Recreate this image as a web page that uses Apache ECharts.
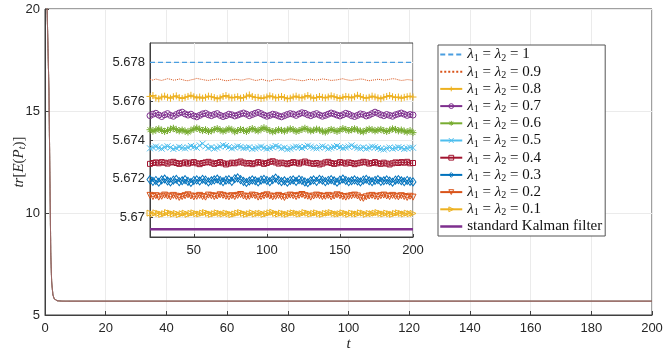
<!DOCTYPE html>
<html><head><meta charset="utf-8">
<script src="https://cdn.jsdelivr.net/npm/echarts@6/dist/echarts.min.js"></script>
<style>html,body{margin:0;padding:0;background:#fff}#c{width:664px;height:355px}</style>
</head><body><div id="c"></div>
<script>
// ---------- data ----------
const lambdaLabels = ['1','0.9','0.8','0.7','0.6','0.5','0.4','0.3','0.2','0.1'];
const kalmanName = 'standard Kalman filter';
// steady-state level of each curve in the inset (t = 20..200)
const insetLevels = [5.6780, 5.6771, 5.6762, 5.6753, 5.6745, 5.6736, 5.6728, 5.6719, 5.6711, 5.6702];
const kalmanLevel = 5.6694;
const insetStart = 20, insetEnd = 200, insetStep = 2;
// fluctuations around the level, in units of devUnit (one value per t = 20,22,...,200)
const devUnit = 1.5e-5;
const dev09 = [2,-1,3,0,-2,1,4,2,-1,0, 3,1,-2,-3,0,2,5,3,1,-1, -2,0,1,3,2,-1,-3,-2,0,2, 1,-1,0,3,4,1,-2,-1,2,0, -3,-4,-1,1,2,0,-2,1,3,2, 0,-1,-3,-2,1,2,0,-1,1,3, 2,0,-2,-1,0,2,4,1,-1,-2, 0,1,3,2,-1,-3,-1,0,2,1, -1,0,2,4,3,0,-2,-1,1,0, -2];
const dev08 = [3,6,-2,-5,1,4,0,-3,2,5, -1,-4,0,3,7,2,-2,1,-3,0, 4,2,-1,-5,-2,3,6,1,-2,0, 2,-3,-1,4,8,3,-1,0,-4,-2, 1,5,2,-2,0,3,-1,-5,-3,1, 4,0,-2,2,6,1,-3,-1,3,0, -2,1,5,2,-1,-4,0,3,1,-2, 2,7,3,-1,-3,0,4,1,-2,-5, 0,3,6,2,-1,1,-3,0,2,4, 1];
const dev07 = [-3,2,5,-1,-6,0,4,-2,-5,1, 6,9,3,-1,2,-4,-7,-2,3,5, 0,-3,1,4,-2,-6,-3,2,0,-4, -1,3,6,2,-3,1,5,8,4,-1, -5,-2,2,0,-4,-7,-3,1,4,2, -2,3,7,5,0,-3,1,4,-1,-5, -2,2,6,3,-1,-4,0,5,2,-3, -6,-2,3,1,-4,-1,4,9,5,0, -3,1,-2,-5,0,3,6,2,-2,1, -1];
const dev06 = [2,-3,1,5,0,-4,-1,4,7,2, -2,1,-3,-6,0,4,8,3,-1,2, -4,-2,3,6,1,-3,0,5,2,-5, -1,3,0,-4,2,6,1,-2,4,9, 3,-1,-5,-2,2,0,-3,1,5,2, -4,-1,3,7,2,-2,0,4,1,-3, -6,-1,3,0,-4,1,6,3,-1,2, 5,1,-3,-5,0,4,2,-2,1,3, -1,-4,0,5,3,-2,1,-3,-6,-1, -8];
const dev05 = [-2,1,4,0,-3,2,5,1,-4,-1, 3,0,-2,1,6,3,0,8,14,5, -1,2,-3,0,4,9,6,2,-2,1, 5,3,-1,0,2,-4,-2,1,4,0, -3,-1,2,6,3,-2,0,-5,-3,1, 4,2,-1,3,7,4,0,-2,1,5, 2,-3,0,3,6,2,-1,1,4,8, 3,0,-2,1,-3,0,4,2,-1,-4, -6,-2,1,-3,-1,2,0,-4,-2,1, 0];
const dev04 = [-2,1,3,0,4,2,-1,3,5,1, -2,0,3,-1,2,4,0,-3,1,3, 5,2,-2,1,4,0,-4,-1,2,0, 3,6,2,-1,1,-3,0,4,2,-2, 1,5,7,3,-1,2,0,-3,1,4, 2,-1,3,6,2,0,-2,1,-4,-1, 3,5,1,-2,0,4,2,-1,3,1, -3,0,2,5,3,-1,1,4,0,-2, 2,-1,-4,0,3,1,4,2,5,0, 1];
const dev03 = [4,-2,1,-5,3,6,-1,-4,2,5, -3,0,4,-2,-6,1,3,-1,5,2, -4,0,3,6,1,-3,2,4,-2,7, 10,4,-2,-6,-1,3,0,-4,2,5, 1,-3,4,9,2,-3,0,-5,1,3, -2,4,1,-4,-7,0,3,-2,5,2, -3,1,4,0,-5,2,6,1,-3,0, 3,-1,-4,2,5,0,-3,1,4,-2, 0,3,-1,-5,2,4,0,-3,1,-2, -4];
const dev02 = [3,-1,2,-3,0,4,1,-2,3,0, -4,-1,2,5,1,-2,0,3,-1,-3, 4,2,-1,1,5,3,0,-2,2,-1, 3,6,1,-2,0,4,2,-3,-1,2, 5,1,-2,0,3,-1,-4,1,4,2, -1,3,6,2,0,-3,1,4,2,-1, 0,3,-2,1,5,2,-1,-3,0,2, 4,1,-5,-7,-2,1,3,0,-2,2, 4,1,-1,3,0,-2,2,-1,-4,0, -3];
const dev01 = [2,-1,3,1,-2,0,4,2,-1,1, -3,0,2,-2,1,3,0,-1,2,4, 1,-2,0,3,1,-1,2,0,-3,-1, 2,4,1,-2,0,3,-1,1,2,-2, 0,3,5,1,-1,2,0,-2,1,3, 2,-1,0,4,2,-1,1,3,0,-2, 1,2,4,1,-1,0,3,1,-2,2, 0,-1,3,2,-2,1,0,2,4,1, -1,2,0,-2,1,3,1,-1,2,0, 1];
// transient shown in the main axes (all curves coincide at this scale)
const mainT = [0, 0.4, 0.7, 1.0, 1.3, 1.6, 1.9, 2.2, 2.6, 3.0, 3.5, 4, 5, 6, 8, 200];
const mainV = [40, 26, 20, 18, 16, 12, 8, 6.6, 6.0, 5.8, 5.73, 5.70, 5.685, 5.68, 5.678, 5.678];
const insetXTicks = [50, 100, 150, 200];
const insetYTicks = [5.670, 5.672, 5.674, 5.676, 5.678];

// ---------- styles ----------
const colors = ['#4a9ee0','#D95319','#EDB120','#7E2F8E','#77AC30','#4DBEEE','#A2142F','#0072BD','#D95319','#EDB120'];
const kalmanColor = '#7E2F8E';
const devs = [null, dev09, dev08, dev07, dev06, dev05, dev04, dev03, dev02, dev01];
const symbols = ['none','none',
  'path://M5,0L5,10M0,5L10,5',
  'circle',
  'path://M5,0L5,10M0,5L10,5M1.5,1.5L8.5,8.5M8.5,1.5L1.5,8.5',
  'path://M0,0L10,10M10,0L0,10',
  'rect',
  'diamond',
  'path://M0,0L10,0L5,8.66Z',
  'path://M0,0L8.66,5L0,10Z'];
const symbolSizes = [0,0,7,6,7,6,5,[6,8],6,6];
const names = lambdaLabels.map(v => 'λ1 = λ2 = ' + v);
const hollow = c => ({ color: 'rgba(255,255,255,0)', borderColor: c, borderWidth: 1 });

const series = [];
names.forEach((nm, k) => {
  let data;
  if (devs[k]) {
    data = devs[k].map((d, i) => [insetStart + i * insetStep, insetLevels[k] + d * devUnit]);
  } else {
    data = [[insetStart, insetLevels[k]], [insetEnd, insetLevels[k]]];
  }
  series.push({
    name: nm, type: 'line', xAxisIndex: 1, yAxisIndex: 1, data,
    symbol: symbols[k] === 'none' ? 'circle' : symbols[k], symbolSize: symbolSizes[k] || 1,
    showSymbol: symbols[k] !== 'none',
    lineStyle: { color: colors[k], width: k === 0 ? 1.2 : 1, type: k === 0 ? [5, 3] : (k === 1 ? 'dotted' : 'solid') },
    itemStyle: symbols[k] === 'none' ? { color: 'rgba(0,0,0,0)', opacity: 0 } : hollow(colors[k]),
    emphasis: { disabled: true }, z: 3
  });
});
series.push({
  name: kalmanName, type: 'line', xAxisIndex: 1, yAxisIndex: 1,
  data: [[insetStart, kalmanLevel], [insetEnd, kalmanLevel]],
  symbol: 'circle', symbolSize: 1, showSymbol: false,
  lineStyle: { color: kalmanColor, width: 2.5 }, itemStyle: { color: 'rgba(0,0,0,0)', opacity: 0 },
  emphasis: { disabled: true }, z: 3
});
// main axes curves
names.concat([kalmanName]).forEach((nm, k) => {
  series.push({
    name: nm, type: 'line', xAxisIndex: 0, yAxisIndex: 0,
    data: mainT.map((t, i) => [t, mainV[i]]),
    symbol: 'none', emphasis: { disabled: true },
    lineStyle: { color: k < 10 ? colors[k] : kalmanColor, width: 1, opacity: 0.3 }
  });
});

// legend entries with per-item marker styles
const legendData = names.map((nm, k) => ({
  name: nm,
  itemStyle: symbols[k] === 'none' ? { color: 'rgba(0,0,0,0)', borderWidth: 0, opacity: 0 } : hollow(colors[k])
})).concat([{ name: kalmanName, itemStyle: { color: 'rgba(0,0,0,0)', borderWidth: 0, opacity: 0 }, lineStyle: { width: 2.5 } }]);

const axisColor = '#404040';
const txt = '#262626';
const serif = 'Liberation Serif';
const rich = {
  i: { fontFamily: serif, fontStyle: 'italic', fontSize: 15, color: '#111', lineHeight: 17 },
  s: { fontFamily: serif, fontSize: 10, color: '#111', lineHeight: 17, padding: [7, 0, 0, 0] },
  t: { fontFamily: serif, fontSize: 15, color: '#111', lineHeight: 17 },
  k: { fontFamily: serif, fontSize: 15, color: '#111', lineHeight: 17 }
};

const chart = echarts.init(document.getElementById('c'), null, { renderer: 'canvas' });
chart.setOption({
  animation: false,
  backgroundColor: '#fff',
  grid: [
    { left: 45, right: 12, top: 9, bottom: 40, outerBoundsMode: 'none', containLabel: false,
      show: true, borderColor: axisColor, borderWidth: 1, backgroundColor: 'rgba(0,0,0,0)' },
    { left: 150, top: 43, width: 263, height: 194, outerBoundsMode: 'none', containLabel: false,
      show: true, borderColor: axisColor, borderWidth: 1, backgroundColor: '#fff', z: 1 }
  ],
  xAxis: [
    { type: 'value', gridIndex: 0, min: 0, max: 200, interval: 20,
      name: 't', nameLocation: 'middle', nameGap: 22, nameMoveOverlap: false,
      nameTextStyle: { fontFamily: serif, fontStyle: 'italic', fontSize: 15, color: txt },
      axisLine: { lineStyle: { color: axisColor } },
      axisTick: { inside: true, length: 4, lineStyle: { color: axisColor } },
      axisLabel: { color: txt, fontSize: 13, fontFamily: 'Liberation Sans', margin: 7 },
      splitLine: { lineStyle: { color: '#ebebeb' } } },
    { type: 'value', gridIndex: 1, min: insetStart, max: insetEnd, z: 2,
      axisLine: { lineStyle: { color: axisColor } },
      axisTick: { inside: true, length: 3, customValues: insetXTicks, lineStyle: { color: axisColor } },
      axisLabel: { color: txt, fontSize: 13, fontFamily: 'Liberation Sans', margin: 7, customValues: insetXTicks },
      splitLine: { show: true, lineStyle: { color: '#ebebeb' } } }
  ],
  yAxis: [
    { type: 'value', gridIndex: 0, min: 5, max: 20, interval: 5,
      name: '{i|tr}[{i|E}({i|P}{s|t})]', nameLocation: 'middle', nameGap: 18, nameMoveOverlap: false,
      nameTextStyle: { fontFamily: serif, fontSize: 15, color: txt, rich: {
        i: { fontFamily: serif, fontStyle: 'italic', fontSize: 15, color: txt },
        s: { fontFamily: serif, fontStyle: 'italic', fontSize: 10, color: txt, padding: [6, 0, 0, 0] } } },
      axisLine: { lineStyle: { color: axisColor } },
      axisTick: { inside: true, length: 4, lineStyle: { color: axisColor } },
      axisLabel: { color: txt, fontSize: 13, fontFamily: 'Liberation Sans', margin: 5 },
      splitLine: { lineStyle: { color: '#ebebeb' } } },
    { type: 'value', gridIndex: 1, min: 5.669, max: 5.679, z: 2,
      axisLine: { lineStyle: { color: axisColor } },
      axisTick: { inside: true, length: 3, customValues: insetYTicks, lineStyle: { color: axisColor } },
      axisLabel: { color: txt, fontSize: 13, fontFamily: 'Liberation Sans', margin: 5, customValues: insetYTicks,
        formatter: v => String(+(+v).toFixed(3)) },
      splitLine: { show: true, lineStyle: { color: '#ebebeb' } } }
  ],
  legend: {
    orient: 'vertical', left: 438, top: 45,
    data: legendData,
    backgroundColor: '#fff', borderColor: '#555', borderWidth: 1,
    padding: [1, 3, 1, 1], itemGap: 0.2, itemWidth: 22, itemHeight: 6,
    selectedMode: false,
    textStyle: { fontFamily: serif, fontSize: 15, color: '#111', lineHeight: 17, rich },
    formatter: function (name) {
      if (name === kalmanName) return '{k|' + name + '}';
      const v = name.split('= ').pop();
      return '{i|λ}{s|1}{t| = }{i|λ}{s|2}{t| = ' + v + '}';
    }
  },
  series
});
</script></body></html>
